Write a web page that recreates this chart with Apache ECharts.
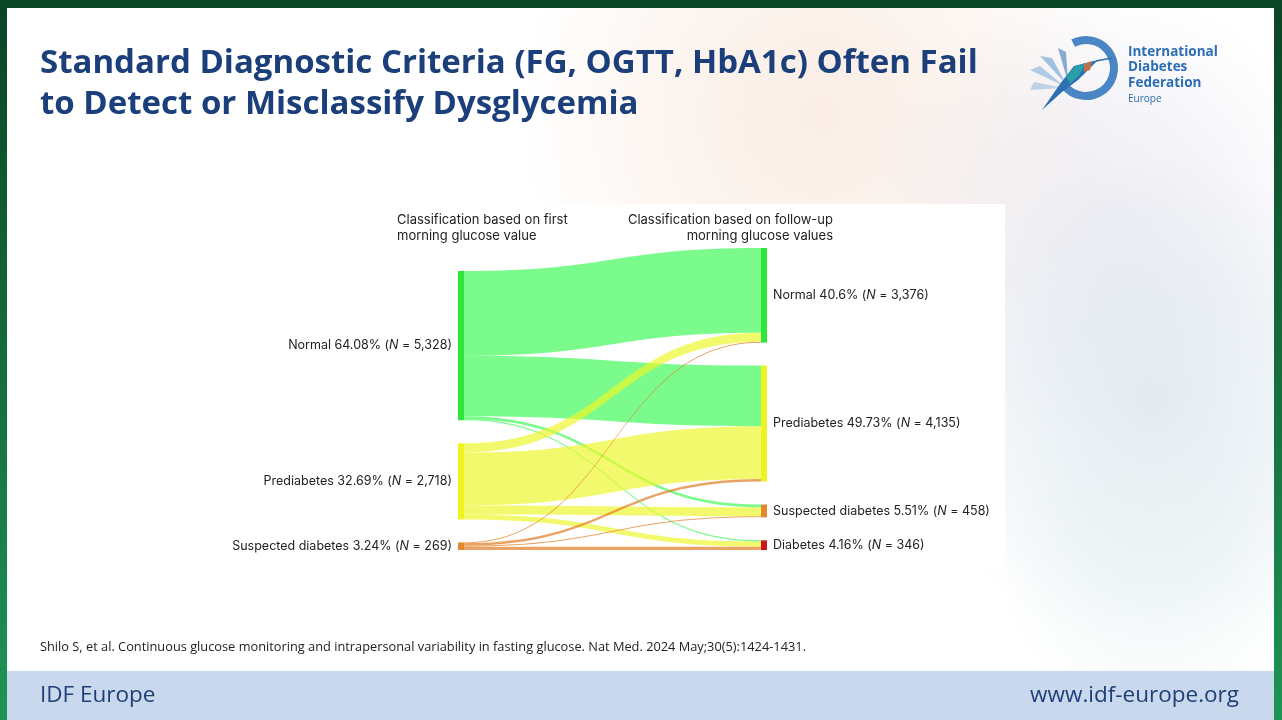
<!DOCTYPE html>
<html>
<head>
<meta charset="utf-8">
<script src="https://cdn.jsdelivr.net/npm/echarts@6/dist/echarts.min.js"></script>
<style>
html,body{margin:0;padding:0;background:#fff;}
#chart{width:1282px;height:720px;}
</style>
</head>
<body>
<div id="chart"></div>
<script>
// ---- data ----
const firstCategories = ['Normal', 'Prediabetes', 'Suspected diabetes'];
const firstPct = ['64.08%', '32.69%', '3.24%'];
const firstN = [5328, 2718, 269];

const followCategories = ['Normal', 'Prediabetes', 'Suspected diabetes', 'Diabetes'];
const followPct = ['40.6%', '49.73%', '5.51%', '4.16%'];
const followN = [3376, 4135, 458, 346];

// flows from each first-value class to follow-up classes (Normal, Prediabetes, Suspected diabetes, Diabetes)
const fromNormal = [3020, 2160, 100, 48];
const fromPrediabetes = [330, 1890, 320, 178];
const fromSuspected = [26, 85, 38, 120];

const titleLines = ['Standard Diagnostic Criteria (FG, OGTT, HbA1c) Often Fail', 'to Detect or Misclassify Dysglycemia'];
const leftHeader = 'Classification based on first\nmorning glucose value';
const rightHeader = 'Classification based on follow-up\nmorning glucose values';
const citation = 'Shilo S, et al. Continuous glucose monitoring and intrapersonal variability in fasting glucose. Nat Med. 2024 May;30(5):1424-1431.';

// ---- styles ----
const nodeColors = { 'Normal': '#2fe63a', 'Prediabetes': '#eef41e', 'Suspected diabetes': '#e0892e', 'Diabetes': '#c81a1e' };
const linkColors = { 'Normal': 'rgba(70,250,95,0.72)', 'Prediabetes': 'rgba(238,246,40,0.68)', 'Suspected diabetes': 'rgba(226,128,40,0.72)' };

const flows = [fromNormal, fromPrediabetes, fromSuspected];
const labelInfo = {};
const nodes = [];
firstCategories.forEach((c, i) => {
  const id = 'first:' + c;
  labelInfo[id] = { name: c, pct: firstPct[i], n: firstN[i] };
  nodes.push({ name: id, itemStyle: { color: nodeColors[c] }, label: { position: 'left' } });
});
followCategories.forEach((c, i) => {
  const id = 'follow:' + c;
  labelInfo[id] = { name: c, pct: followPct[i], n: followN[i] };
  nodes.push({ name: id, itemStyle: { color: nodeColors[c] }, label: { position: 'right' } });
});
const links = [];
firstCategories.forEach((s, i) => {
  followCategories.forEach((t, j) => {
    links.push({ source: 'first:' + s, target: 'follow:' + t, value: flows[i][j], lineStyle: { color: linkColors[s] } });
  });
});

const chart = echarts.init(document.getElementById('chart'), null, { renderer: 'canvas' });

const labelFont = 'Inter, "Noto Sans", sans-serif';

function radial(cx, cy, r, rgb, a) {
  return { type: 'rect', z: -9, shape: { x: 0, y: 0, width: 1282, height: 720 },
    style: { fill: new echarts.graphic.RadialGradient(cx, cy, r, [
      { offset: 0, color: 'rgba(' + rgb + ',' + a + ')' },
      { offset: 0.5, color: 'rgba(' + rgb + ',' + (a * 0.6) + ')' },
      { offset: 1, color: 'rgba(' + rgb + ',0)' }]) } };
}

const option = {
  animation: false,
  graphic: [
    // slide background
    { type: 'rect', z: -10, shape: { x: 0, y: 0, width: 1282, height: 720 }, style: { fill: '#ffffff' } },
    radial(0.64, 0.16, 0.42, '247,226,212', 0.6),
    radial(0.86, 0.3, 0.32, '228,226,236', 0.6),
    radial(0.9, 0.56, 0.34, '216,228,237', 0.7),
    radial(0.9, 0.78, 0.22, '228,240,240', 0.5),
    // frame
    { type: 'rect', z: -5, shape: { x: 0, y: 0, width: 7, height: 720 },
      style: { fill: new echarts.graphic.LinearGradient(0, 0, 0, 1, [
        { offset: 0, color: '#0b4424' }, { offset: 1, color: '#1f9456' }]) } },
    { type: 'rect', z: -5, shape: { x: 1274, y: 0, width: 8, height: 720 },
      style: { fill: new echarts.graphic.LinearGradient(0, 0, 0, 1, [
        { offset: 0, color: '#0b4424' }, { offset: 1, color: '#1f9456' }]) } },
    { type: 'rect', z: -5, shape: { x: 0, y: 0, width: 1282, height: 8 }, style: { fill: '#0c4727' } },
    // chart panel
    { type: 'rect', z: -4, shape: { x: 228, y: 204, width: 777, height: 366 }, style: { fill: '#ffffff' } },
    // footer
    { type: 'rect', z: -4, shape: { x: 7, y: 671, width: 1267, height: 49 }, style: { fill: '#c9d8ed' } },
    { type: 'text', z: 5, style: { text: 'IDF Europe', x: 40, y: 696, fill: '#1f3f78', font: '22.5px "Open Sans", sans-serif', textVerticalAlign: 'middle' } },
    { type: 'text', z: 5, style: { text: 'www.idf-europe.org', x: 1239, y: 696, fill: '#1f3f78', font: '22.5px "Open Sans", sans-serif', textAlign: 'right', textVerticalAlign: 'middle' } },
    // title
    { type: 'text', z: 5, style: { text: titleLines.join('\n'), x: 40, y: 43, fill: '#1b3f7b', font: 'bold 33px "Open Sans", sans-serif', lineHeight: 41 } },
    // citation
    { type: 'text', z: 5, style: { text: citation, x: 40, y: 647, fill: '#222222', font: '12.8px "Open Sans", sans-serif', textVerticalAlign: 'middle' } },
    // column headers
    { type: 'text', z: 5, style: { text: leftHeader, x: 397, y: 212, fill: '#222222', font: '13px ' + labelFont, lineHeight: 16 } },
    { type: 'text', z: 5, style: { text: rightHeader, x: 833, y: 212, fill: '#222222', font: '13px ' + labelFont, lineHeight: 16, textAlign: 'right' } },
    // logo
    { type: 'arc', z: 5, shape: { cx: 1086, cy: 68, r: 28, startAngle: -2.05, endAngle: 2.45, clockwise: true }, style: { stroke: '#4a86c4', lineWidth: 8, fill: null } },
    { type: 'polygon', z: 6, shape: { points: [[1042, 110], [1060, 84], [1074, 66], [1090, 62], [1098, 60], [1088, 70], [1078, 80], [1062, 92]] }, style: { fill: '#2c6fb2' } },
    { type: 'polygon', z: 6, shape: { points: [[1066, 76], [1076, 66], [1086, 63], [1080, 74], [1070, 84]] }, style: { fill: '#29a0a8' } },
    { type: 'polygon', z: 6, shape: { points: [[1084, 64], [1092, 61], [1090, 70], [1084, 72]] }, style: { fill: '#c0704a' } },
    { type: 'line', z: 6, shape: { x1: 1096, y1: 61, x2: 1112, y2: 58 }, style: { stroke: '#2c6fb2', lineWidth: 1.5 } },
    { type: 'polygon', z: 4, shape: { points: [[1066, 84], [1040, 56], [1052, 58]] }, style: { fill: 'rgba(90,150,210,0.55)' } },
    { type: 'polygon', z: 4, shape: { points: [[1064, 86], [1030, 70], [1040, 66]] }, style: { fill: 'rgba(90,150,210,0.45)' } },
    { type: 'polygon', z: 4, shape: { points: [[1064, 88], [1030, 90], [1034, 82]] }, style: { fill: 'rgba(90,150,210,0.35)' } },
    { type: 'polygon', z: 4, shape: { points: [[1068, 82], [1058, 48], [1066, 52]] }, style: { fill: 'rgba(60,120,190,0.6)' } },
    { type: 'text', z: 5, style: { text: 'International\nDiabetes\nFederation', x: 1128, y: 44, fill: '#2a6db5', font: 'bold 13.5px "Open Sans", sans-serif', lineHeight: 15.5 } },
    { type: 'text', z: 5, style: { text: 'Europe', x: 1128, y: 94, fill: '#2a6db5', font: '10px "Open Sans", sans-serif' } }
  ],
  series: [{
    type: 'sankey',
    left: 458,
    right: 515,
    top: 248,
    bottom: 170,
    nodeWidth: 6,
    nodeGap: 23,
    draggable: false,
    emphasis: { disabled: true },
    data: nodes,
    links: links,
    itemStyle: { borderWidth: 0 },
    lineStyle: { curveness: 0.5, opacity: 1 },
    label: {
      show: true,
      distance: 6,
      color: '#222222',
      formatter: function (p) {
        const info = labelInfo[p.name];
        return '{a|' + info.name + ' ' + info.pct + ' (}{i|N}{a| = ' + info.n.toLocaleString('en-US') + ')}';
      },
      rich: {
        a: { fontFamily: 'Inter, "Noto Sans", sans-serif', fontSize: 12.5, color: '#222222' },
        i: { fontFamily: 'Inter, "Noto Sans", sans-serif', fontSize: 12.5, fontStyle: 'italic', color: '#222222' }
      }
    }
  }]
};
chart.setOption(option);
</script>
</body>
</html>
